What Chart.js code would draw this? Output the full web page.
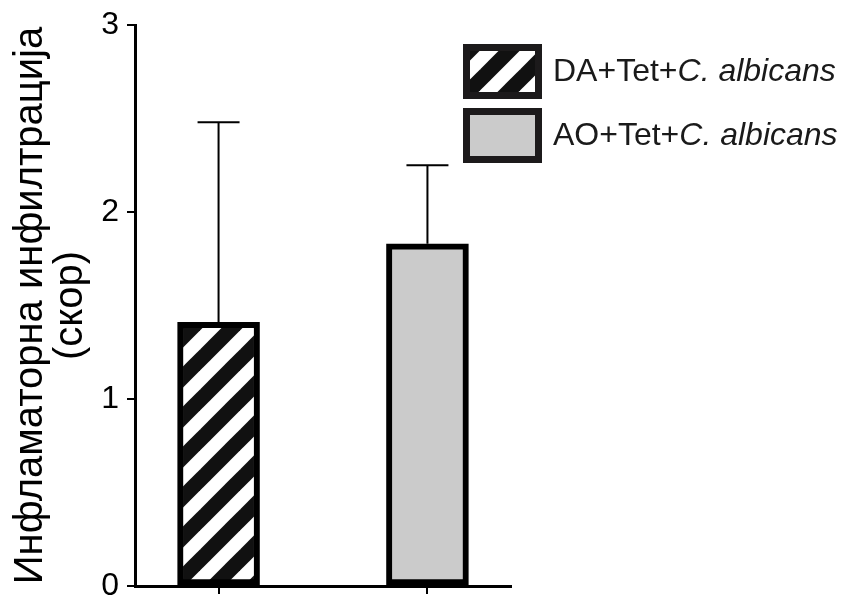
<!DOCTYPE html>
<html>
<head>
<meta charset="utf-8">
<script src="https://cdn.jsdelivr.net/npm/chart.js@4/dist/chart.umd.min.js"></script>
<style>
    html, body { margin: 0; padding: 0; background: #fff; }
    #chart { display: block; }
</style>
</head>
<body>
<canvas id="chart" width="852" height="599"></canvas>
<script>
// data
const groups = ['DA+Tet+', 'AO+Tet+'];
const groupItalic = ['C. albicans', 'C. albicans'];
const groupPos = [1, 2];
const means = [1.41, 1.83];
const sdUpper = [1.07, 0.42];
const yTicks = [0, 1, 2, 3];
const yTitle = ['Инфламаторна инфилтрација', '(скор)'];

const FONT = '"Liberation Sans", Arial, sans-serif';

// diagonal hatch for the first group
function makeHatch() {
    const c = document.createElement('canvas');
    c.width = 40; c.height = 40;
    const g = c.getContext('2d');
    g.fillStyle = '#fff';
    g.fillRect(0, 0, 40, 40);
    g.strokeStyle = '#111';
    g.lineWidth = 15;
    [0, 40, 80].forEach(k => {
        g.beginPath();
        g.moveTo(k + 10, -10);
        g.lineTo(k - 50, 50);
        g.stroke();
    });
    return g.createPattern(c, 'repeat');
}

const ctx = document.getElementById('chart').getContext('2d');
const hatch = makeHatch();
const fills = [hatch, '#cbcbcb'];

// error bars (upper only)
const errorBars = {
    id: 'errorBars',
    afterDatasetsDraw(chart) {
        const { ctx, scales: { x, y } } = chart;
        ctx.save();
        ctx.strokeStyle = '#000';
        ctx.lineWidth = 2;
        means.forEach((m, i) => {
            const px = x.getPixelForValue(groupPos[i]);
            const yb = y.getPixelForValue(m);
            const yt = y.getPixelForValue(m + sdUpper[i]);
            ctx.beginPath();
            ctx.moveTo(px, yb);
            ctx.lineTo(px, yt);
            ctx.moveTo(px - 21, yt);
            ctx.lineTo(px + 21, yt);
            ctx.stroke();
        });
        ctx.restore();
    }
};

// legend boxes at the top right
const boxLegend = {
    id: 'boxLegend',
    afterDraw(chart) {
        const { ctx } = chart;
        ctx.save();
        groups.forEach((g, i) => {
            const top = 44 + i * 64;
            ctx.fillStyle = fills[i];
            ctx.fillRect(463, top, 79, 55);
            ctx.strokeStyle = '#1c1a1b';
            ctx.lineWidth = 7;
            ctx.strokeRect(466.5, top + 3.5, 72, 48);
            ctx.fillStyle = '#1a1a1a';
            ctx.textBaseline = 'middle';
            ctx.font = '32px ' + FONT;
            ctx.fillText(g, 553, top + 28);
            const w = ctx.measureText(g).width;
            ctx.font = 'italic 32px ' + FONT;
            ctx.fillText(groupItalic[i], 553 + w, top + 28);
        });
        ctx.restore();
    }
};

new Chart(ctx, {
    type: 'bar',
    data: {
        datasets: [{
            data: groupPos.map((p, i) => ({ x: p, y: means[i] })),
            backgroundColor: fills,
            borderColor: '#000',
            borderWidth: 6,
            borderSkipped: false,
            barThickness: 82,
            grouped: false
        }]
    },
    options: {
        responsive: false,
        animation: false,
        layout: { padding: { top: 25, right: 341, left: 0, bottom: 0 } },
        plugins: {
            legend: { display: false },
            tooltip: { enabled: false }
        },
        scales: {
            x: {
                type: 'linear',
                min: 0.6,
                max: 2.4,
                offset: false,
                afterBuildTicks: s => { s.ticks = groupPos.map(v => ({ value: v })); },
                afterFit: s => { s.height = 13; },
                ticks: { display: false },
                grid: { offset: false, drawOnChartArea: false, drawTicks: true, tickLength: 8, lineWidth: 2, color: '#000' },
                border: { display: true, width: 3, color: '#000' }
            },
            y: {
                min: 0,
                max: 3,
                afterBuildTicks: s => { s.ticks = yTicks.map(v => ({ value: v })); },
                afterFit: s => { s.width = 135; s.paddingTop = 0; s.paddingBottom = 0; },
                ticks: { color: '#000', padding: 8, font: { family: FONT, size: 32 } },
                grid: { drawOnChartArea: false, drawTicks: true, tickLength: 8, lineWidth: 2, color: '#000' },
                border: { display: true, width: 3, color: '#000' },
                title: {
                    display: true,
                    text: yTitle,
                    color: '#000',
                    font: { family: FONT, size: 40, lineHeight: 1.0 },
                    padding: { top: 11, bottom: 0 }
                }
            }
        }
    },
    plugins: [errorBars, boxLegend]
});
</script>
</body>
</html>
